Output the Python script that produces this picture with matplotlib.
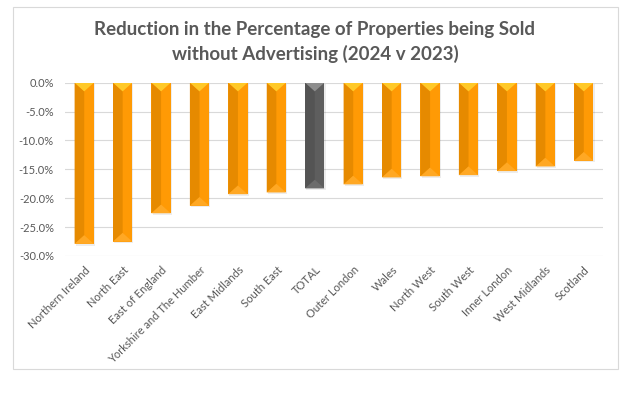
import matplotlib
matplotlib.use("Agg")
import matplotlib.pyplot as plt
from matplotlib.patches import Polygon, Rectangle
from matplotlib.ticker import FuncFormatter

plt.rcParams["font.family"] = ["Lato", "DejaVu Sans"]

regions = ["Northern Ireland", "North East", "East of England",
           "Yorkshire and The Humber", "East Midlands", "South East", "TOTAL",
           "Outer London", "Wales", "North West", "South West", "Inner London",
           "West Midlands", "Scotland"]
change = [-27.9, -27.5, -22.6, -21.3, -19.3, -19.0, -18.3,
          -17.6, -16.4, -16.2, -16.0, -15.3, -14.5, -13.5]
y_ticks = [0, -5, -10, -15, -20, -25, -30]

TXT = "#595959"
ORANGE = {"face": "#FF9A05", "left": "#E68A00", "top": "#FFC928", "bottom": "#FFA824"}
GREY = {"face": "#5E5E5E", "left": "#545454", "top": "#8E8E8E", "bottom": "#6C6C6C"}

fig = plt.figure(figsize=(6.26, 3.94), dpi=100)
fig.patches.append(Rectangle((13 / 626, 1 - 369 / 394), 605 / 626, 362 / 394,
                             transform=fig.transFigure, fill=False,
                             edgecolor="#D9D9D9", linewidth=0.8))

ax = fig.add_axes([65 / 626, 1 - 256 / 394, 538 / 626, 173.3 / 394])

width = 0.5
depth = 1.5  # bevel height in percentage units
x = list(range(len(regions)))
for xi, name, v in zip(x, regions, change):
    c = GREY if name == "TOTAL" else ORANGE
    x0, x1 = xi - width / 2, xi + width / 2
    # soft shadow
    ax.add_patch(Rectangle((x0 + 0.03, v - 0.3), width, -v, facecolor="#000000",
                           alpha=0.07, edgecolor="none", zorder=2))
    ax.bar(xi, v, width=width, color=c["face"], zorder=3)
    ax.add_patch(Polygon([(x0, 0), (xi, -depth), (xi, v + depth), (x0, v)],
                         closed=True, facecolor=c["left"], edgecolor="none", zorder=4))
    ax.add_patch(Polygon([(x0, 0), (x1, 0), (xi, -depth)],
                         closed=True, facecolor=c["top"], edgecolor="none", zorder=5))
    ax.add_patch(Polygon([(x0, v), (x1, v), (xi, v + depth)],
                         closed=True, facecolor=c["bottom"], edgecolor="none", zorder=5))

ax.set_xlim(-0.5, len(regions) - 0.5)
ax.set_ylim(-30, 0)
ax.set_yticks(y_ticks)
ax.yaxis.set_major_formatter(FuncFormatter(lambda v, p: f"{v:.1f}%"))
ax.set_xticks(x)
ax.set_xticklabels(regions, rotation=45, ha="right", rotation_mode="anchor")
ax.tick_params(axis="both", length=0, colors=TXT, labelsize=8)
ax.tick_params(axis="x", pad=6)
ax.tick_params(axis="y", pad=8)
ax.grid(axis="y", color="#D9D9D9", linewidth=0.8, zorder=0)
ax.set_axisbelow(True)
for s in ax.spines.values():
    s.set_visible(False)

fig.text(0.503, 1 - 42 / 394,
         "Reduction in the Percentage of Properties being Sold\nwithout Advertising (2024 v 2023)",
         ha="center", va="center", fontsize=13.5, fontweight="bold", color=TXT,
         linespacing=1.4)

fig.savefig("out.png", dpi=100, facecolor="white")
